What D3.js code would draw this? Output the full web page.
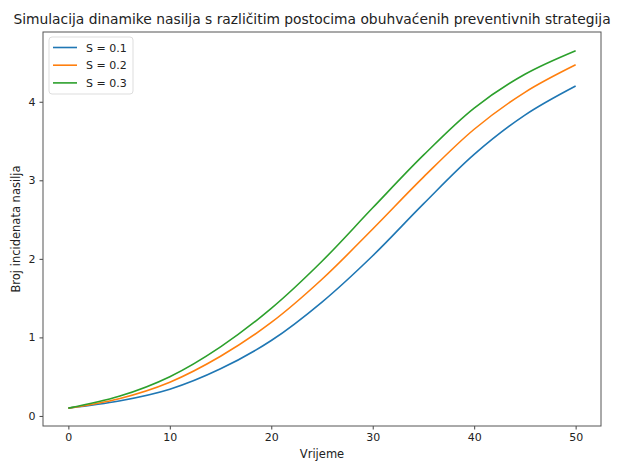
<!DOCTYPE html>
<html>
<head>
<meta charset="utf-8">
<script src="https://cdn.jsdelivr.net/npm/d3@7"></script>
<style>
  body { margin: 0; background: #fff; }
  svg text { font-family: "DejaVu Sans", sans-serif; fill: #222; }
</style>
</head>
<body>
<div id="chart"></div>
<script>
// time steps and simulated incident counts
const vrijeme = [0, 5, 10, 15, 20, 25, 30, 35, 40, 45, 50];
const s01 = [0.10, 0.19, 0.34, 0.60, 0.96, 1.45, 2.04, 2.70, 3.33, 3.83, 4.20];
const s02 = [0.10, 0.22, 0.43, 0.76, 1.19, 1.74, 2.38, 3.04, 3.65, 4.12, 4.47];
const s03 = [0.10, 0.25, 0.50, 0.88, 1.37, 1.97, 2.65, 3.32, 3.92, 4.35, 4.65];
const legendLabels = ["S = 0.1", "S = 0.2", "S = 0.3"];
const colors = ["#1f77b4", "#ff7f0e", "#2ca02c"];
const xTicks = [0, 10, 20, 30, 40, 50];
const yTicks = [0, 1, 2, 3, 4];

const W = 621, H = 461;
const m = { left: 43, right: 20, top: 32, bottom: 35 };

const svg = d3.select("#chart").append("svg").attr("width", W).attr("height", H);

const x = d3.scaleLinear().domain([-2.5, 52.5]).range([m.left, W - m.right]);
const y = d3.scaleLinear().domain([-0.128, 4.888]).range([H - m.bottom, m.top]);

// lines
const series = [s01, s02, s03];
const line = d3.line()
  .curve(d3.curveCatmullRom.alpha(0.5))
  .x((d, i) => x(vrijeme[i]))
  .y(d => y(d));

series.forEach((s, k) => {
  svg.append("path")
    .attr("d", line(s))
    .attr("fill", "none")
    .attr("stroke", colors[k])
    .attr("stroke-width", 1.6);
});

// axes
const xAxis = svg.append("g")
  .attr("transform", `translate(0,${H - m.bottom})`)
  .call(d3.axisBottom(x).tickValues(xTicks).tickFormat(d3.format("d")).tickSize(3.5).tickPadding(4));
const yAxis = svg.append("g")
  .attr("transform", `translate(${m.left},0)`)
  .call(d3.axisLeft(y).tickValues(yTicks).tickFormat(d3.format("d")).tickSize(3.5).tickPadding(4));

[xAxis, yAxis].forEach(a => {
  a.select(".domain").remove();
  a.selectAll("line").attr("stroke", "#444");
  a.selectAll("text").style("font-size", "11px").attr("fill", "#333");
});

// frame
svg.append("rect")
  .attr("x", m.left).attr("y", m.top)
  .attr("width", W - m.left - m.right).attr("height", H - m.top - m.bottom)
  .attr("fill", "none").attr("stroke", "#555").attr("stroke-width", 1);

// title - the reference is squeezed horizontally, so fit width and stretch height
const title = svg.append("text")
  .attr("text-anchor", "middle")
  .style("font-size", "14.5px")
  .text("Simulacija dinamike nasilja s različitim postocima obuhvaćenih preventivnih strategija");
const natW = title.node().getComputedTextLength();
const fs = 14.5 * 598 / natW;
title.style("font-size", fs + "px")
  .attr("transform", `translate(312,24) scale(1,${14.5 / fs})`);

// axis labels
svg.append("text")
  .attr("x", (m.left + W - m.right) / 2).attr("y", 458)
  .attr("text-anchor", "middle")
  .style("font-size", "11.5px")
  .text("Vrijeme");

svg.append("text")
  .attr("transform", `translate(20,${(m.top + H - m.bottom) / 2}) rotate(-90)`)
  .attr("text-anchor", "middle")
  .style("font-size", "11.5px")
  .text("Broj incidenata nasilja");

// legend
const lg = svg.append("g").attr("transform", "translate(49,37)");
lg.append("rect")
  .attr("width", 84).attr("height", 57).attr("rx", 3)
  .attr("fill", "#fff").attr("stroke", "#ddd");
legendLabels.forEach((t, k) => {
  const yy = 10.5 + k * 17.7;
  lg.append("line")
    .attr("x1", 4).attr("x2", 28).attr("y1", yy).attr("y2", yy)
    .attr("stroke", colors[k]).attr("stroke-width", 1.6);
  lg.append("text")
    .attr("x", 37).attr("y", yy + 4)
    .style("font-size", "11px")
    .text(t);
});
</script>
</body>
</html>
